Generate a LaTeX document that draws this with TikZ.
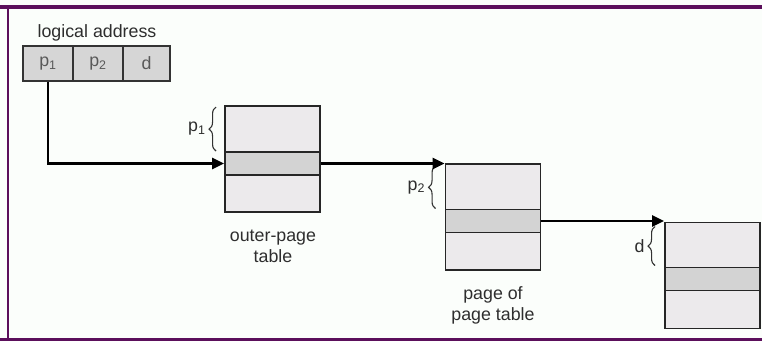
\documentclass[tikz,border=0pt]{standalone}
\usepackage{fontspec}
\setmainfont{Liberation Sans}
\usetikzlibrary{decorations.pathreplacing,arrows.meta,calc}
\definecolor{frame}{HTML}{5B0F5B}
\definecolor{bg}{HTML}{FBFEFB}
\definecolor{cellfill}{HTML}{D6D6D6}
\definecolor{tabfill}{HTML}{ECEAEC}
\definecolor{rowfill}{HTML}{D3D3D3}
\definecolor{txt}{HTML}{2E2E2E}
\begin{document}
\begin{tikzpicture}[x=1pt,y=-1pt,
  lbl/.style={font=\fontsize{17.8}{21}\selectfont, text=txt, inner sep=0pt, align=center},
  cell/.style={draw=black!80, line width=1.6pt, fill=cellfill, minimum width=50pt, minimum height=35pt, inner sep=0pt, font=\fontsize{17.8}{21}\selectfont, text=black!65},
  tab/.style={draw=black!85, line width=1.9pt, fill=tabfill, minimum width=95pt, minimum height=106pt, inner sep=0pt},
  row/.style={draw=black!85, line width=1.9pt, fill=rowfill, minimum width=95pt, minimum height=23pt, inner sep=0pt},
  conn/.style={line width=2.8pt, -{Triangle[length=12pt,width=11pt]}},
  brc/.style={line width=1.1pt, draw=black!80, decorate, decoration={brace, amplitude=7pt}}]
\useasboundingbox (0,0) rectangle (762,341);
\fill[bg] (0,0) rectangle (762,341);
\fill[frame] (0,5) rectangle (762,9);
\fill[frame] (7,5) rectangle (9,341);
\fill[frame] (0,338) rectangle (762,341);
% logical address
\node[lbl] (la) at (97,33) {logical address};
\node[cell] (c1) at (48,63.5) {p\textsubscript{1}};
\node[cell, minimum width=50pt] (c2) at (98,63.5) {p\textsubscript{2}};
\node[cell, minimum width=47pt] (c3) at (146.5,63.5) {d};
% tables
\node[tab] (t1) at (272.5,159) {};
\node[row] (r1) at (272.5,163.5) {};
\node[tab] (t2) at (493,217) {};
\node[row] (r2) at (493,221) {};
\node[tab] (t3) at (712.5,275.5) {};
\node[row] (r3) at (712.5,279) {};
% labels under tables
\node[lbl] (n1) at (273,246) {outer-page\\table};
\node[lbl] (n2) at (493,305) {page of\\page table};
% braces
\coordinate (b1a) at ($(t1.north west)+(-8,2)$);
\coordinate (b1b) at ($(r1.north west)+(-8,0)$);
\draw[brc] (b1b) -- (b1a) node[midway, left=10pt, lbl] (p1l) {p\textsubscript{1}};
\coordinate (b2a) at ($(t2.north west)+(-9,3)$);
\coordinate (b2b) at ($(r2.north west)+(-9,0)$);
\draw[brc] (b2b) -- (b2a) node[midway, left=10pt, lbl] (p2l) {p\textsubscript{2}};
\coordinate (b3a) at ($(t3.north west)+(-9,5)$);
\coordinate (b3b) at ($(r3.north west)+(-9,-1)$);
\draw[brc] (b3b) -- (b3a) node[midway, left=10pt, lbl] (dl) {d};
% connectors
\draw[conn] (c1.south) |- (r1.west);
\draw[conn] (r1.east) -- (r1.east -| t2.west);
\draw[conn] (r2.east) -- (r2.east -| t3.west);
\end{tikzpicture}
\end{document}
